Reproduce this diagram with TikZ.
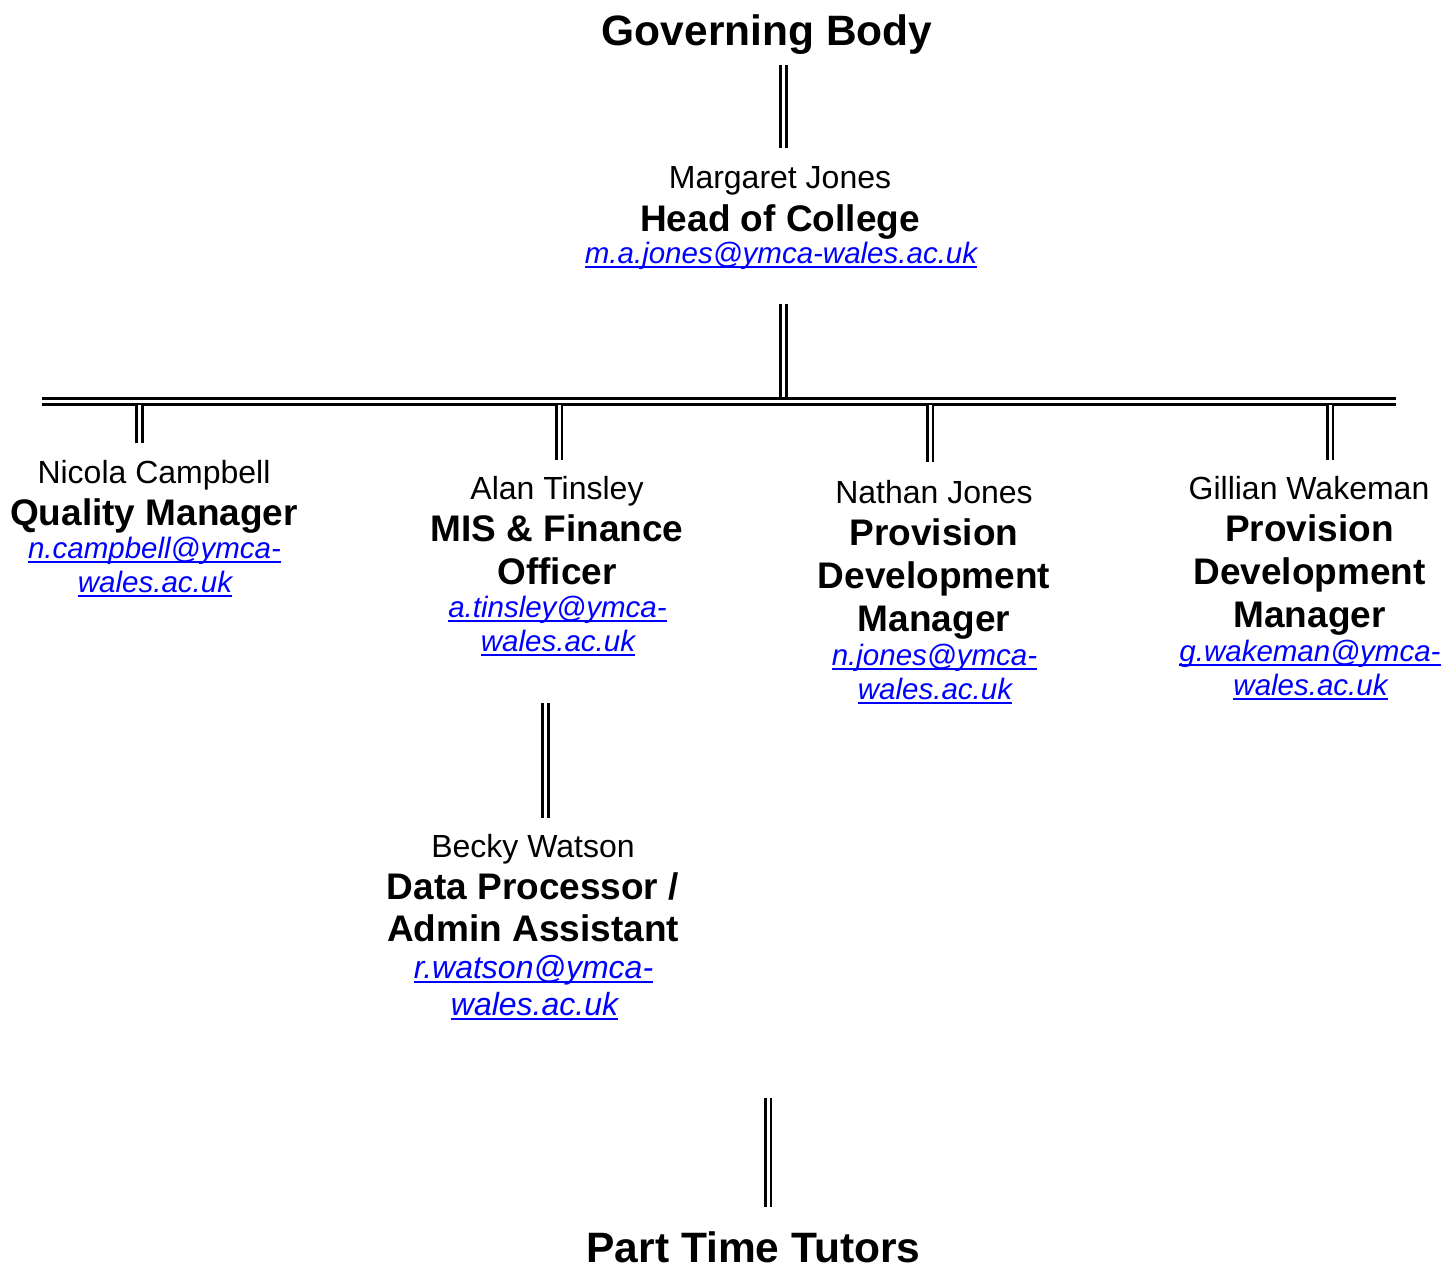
\documentclass[tikz,border=0pt]{standalone}
\usepackage{fontspec}
\setmainfont{Liberation Sans}
\usepackage{xcolor}
\definecolor{mailblue}{RGB}{0,0,255}
\newsavebox{\emlbox}
\newcommand{\eml}[1]{\sbox{\emlbox}{#1}\rlap{\usebox{\emlbox}}\rule[-5pt]{\wd\emlbox}{2pt}}
\tikzset{
  nm/.style={anchor=base,inner sep=0pt,font=\fontsize{32}{38}\selectfont},
  ttl/.style={anchor=base,inner sep=0pt,font=\fontsize{37}{44}\selectfont\bfseries},
  topttl/.style={anchor=base,inner sep=0pt,font=\fontsize{42.5}{50}\selectfont\bfseries},
  ml/.style={anchor=base,inner sep=0pt,font=\fontsize{29.5}{35}\selectfont\itshape,text=mailblue},
  mlbig/.style={ml,font=\fontsize{32}{38}\selectfont\itshape},
  dbl/.style={draw=black,double=white,line width=2.9pt,double distance=3pt},
}
\begin{document}
\begin{tikzpicture}[x=1pt,y=-1pt]
\useasboundingbox (0,0) rectangle (1455,1266);
% top
\node[topttl] (gov) at (767,45) {Governing Body};
% head
\node[nm]  (mjn) at (780,188) {Margaret Jones};
\node[ttl] (mjt) at (780,231) {Head of College};
\node[ml]  (mjm) at (781,263) {\eml{m.a.jones@ymca-wales.ac.uk}};
% Nicola
\node[nm]  (ncn) at (154,483) {Nicola Campbell};
\node[ttl] (nct) at (154,525) {Quality Manager};
\node[ml]  (ncm1) at (154.5,558) {\eml{n.campbell@ymca-}};
\node[ml]  (ncm2) at (155,592) {\eml{wales.ac.uk}};
% Alan
\node[nm]  (atn) at (557,499) {Alan Tinsley};
\node[ttl] (att1) at (557,541) {MIS \& Finance};
\node[ttl] (att2) at (557,584) {Officer};
\node[ml]  (atm1) at (557.5,617) {\eml{a.tinsley@ymca-}};
\node[ml]  (atm2) at (558,651) {\eml{wales.ac.uk}};
% Nathan
\node[nm]  (njn) at (934,503) {Nathan Jones};
\node[ttl] (njt1) at (934,545) {Provision};
\node[ttl] (njt2) at (934,588) {Development};
\node[ttl] (njt3) at (934,631) {Manager};
\node[ml]  (njm1) at (934.5,665) {\eml{n.jones@ymca-}};
\node[ml]  (njm2) at (935,699) {\eml{wales.ac.uk}};
% Gillian
\node[nm]  (gwn) at (1309,499) {Gillian Wakeman};
\node[ttl] (gwt1) at (1309.5,541) {Provision};
\node[ttl] (gwt2) at (1309.5,584) {Development};
\node[ttl] (gwt3) at (1309.5,627) {Manager};
\node[ml]  (gwm1) at (1310,661) {\eml{g.wakeman@ymca-}};
\node[ml]  (gwm2) at (1310.5,695) {\eml{wales.ac.uk}};
% Becky
\node[nm]  (bwn) at (533,857) {Becky Watson};
\node[ttl] (bwt1) at (533,899) {Data Processor /};
\node[ttl] (bwt2) at (533,941) {Admin Assistant};
\node[mlbig] (bwm1) at (533.5,978) {\eml{r.watson@ymca-}};
\node[mlbig] (bwm2) at (534.5,1015) {\eml{wales.ac.uk}};
% bottom
\node[topttl] (ptt) at (753.5,1262) {Part Time Tutors};
% connector end points
\coordinate (g1) at (783.5,65);   \coordinate (g2) at (783.5,148);
\coordinate (h1) at (783.5,304);  \coordinate (h2) at (783.5,401);
\coordinate (busL) at (42,401.5); \coordinate (busR) at (1395.7,401.5);
\coordinate (b1a) at (139.3,405); \coordinate (b1b) at (139.3,443);
\coordinate (b2a) at (559,405);   \coordinate (b2b) at (559,460);
\coordinate (b3a) at (930,405);   \coordinate (b3b) at (930,462);
\coordinate (b4a) at (1330,405);  \coordinate (b4b) at (1330,460);
\coordinate (c1) at (545.8,703);  \coordinate (c2) at (545.8,818);
\coordinate (d1) at (768,1098);   \coordinate (d2) at (768,1207);
% connectors
\draw[dbl] (g1) -- (g2);
\draw[dbl] (h1) -- (h2);
\draw[dbl] (busL) -- (busR);
\draw[dbl] (b1a) -- (b1b);
\draw[dbl] (b2a) -- (b2b);
\draw[dbl] (b3a) -- (b3b);
\draw[dbl] (b4a) -- (b4b);
\draw[dbl] (c1) -- (c2);
\draw[dbl] (d1) -- (d2);
\end{tikzpicture}
\end{document}
